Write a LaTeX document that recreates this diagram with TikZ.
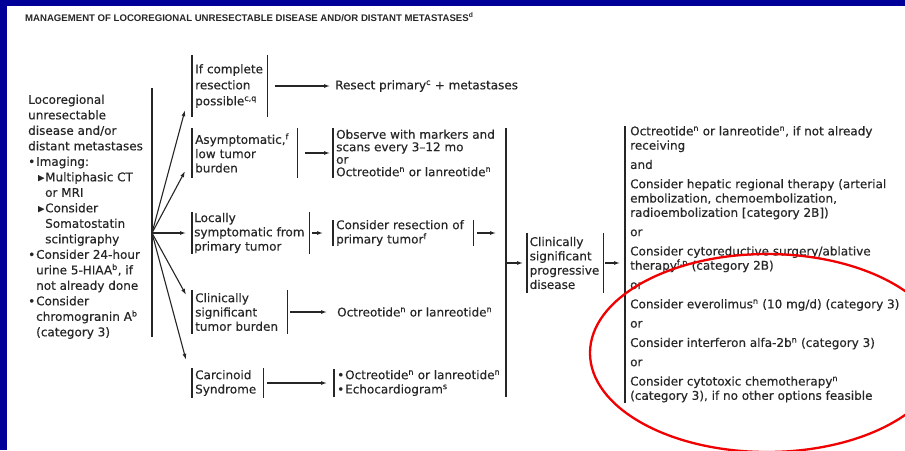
\documentclass[tikz,border=0pt]{standalone}
\usepackage{fontspec}
\setmainfont{DejaVu Sans}[FakeBold=0.35]
\newfontfamily\titrefont{Liberation Sans}
\usetikzlibrary{arrows.meta,positioning,calc}
\definecolor{bleucadre}{RGB}{0,0,153}
\definecolor{gristexte}{RGB}{38,38,38}
\definecolor{rougecercle}{RGB}{240,0,0}
\newcommand{\puce}[1]{\makebox[8pt][l]{#1}}
\newcommand{\souspuce}[1]{\hspace{10pt}\makebox[7pt][l]{#1}}

\begin{document}
\begin{tikzpicture}[x=1pt,y=-1pt,font=\fontsize{12}{14.3}\selectfont,text=gristexte,
	boite/.style={anchor=west,align=left,inner xsep=3pt,inner ysep=0pt},
	trait/.style={gristexte,line width=1.3pt},
	fleche/.style={-{Latex[length=6pt,width=4pt]},gristexte,line width=1.1pt}]
	
	\useasboundingbox (0,0) rectangle (905,450);
	\fill[white] (0,0) rectangle (905,450);
	\fill[bleucadre] (0,0) rectangle (7,450);
	\fill[bleucadre] (0,0) rectangle (905,6);
	
	\node[anchor=west,inner sep=0pt,font={\titrefont\bfseries\fontsize{9.6}{10}\selectfont}] (titre) at (25,17)
	{MANAGEMENT OF LOCOREGIONAL UNRESECTABLE DISEASE AND/OR DISTANT METASTASES\textsuperscript{d}};
	
	% colonne de gauche
	\node[anchor=north west,inner sep=0pt,align=left,font=\fontsize{12}{15.5}\selectfont] (depart) at (28,94.5)
	{Locoregional\\unresectable\\disease and/or\\distant metastases\\
		\puce{•}Imaging:\\
		\souspuce{▸}Multiphasic CT\\
		\hspace{17pt}or MRI\\
		\souspuce{▸}Consider\\
		\hspace{17pt}Somatostatin\\
		\hspace{17pt}scintigraphy\\
		\puce{•}Consider 24-hour\\
		\hspace{8pt}urine 5-HIAA\textsuperscript{b}, if\\
		\hspace{8pt}not already done\\
		\puce{•}Consider\\
		\hspace{8pt}chromogranin A\textsuperscript{b}\\
		\hspace{8pt}(category 3)};
	
	\coordinate (gauchehaut) at (152,88);
	\coordinate (gauchebas) at (152,337);
	\coordinate (fan) at (152,233);
	\draw[trait] (gauchehaut) -- (gauchebas);
	
	% situations
	\node[boite,text width=69pt,minimum height=62pt,font=\fontsize{12}{16}\selectfont] (b1) at (192,86)
	{If complete\\resection\\possible\textsuperscript{c,q}};
	\node[boite,text width=99pt,minimum height=50pt] (b2) at (192,153)
	{Asymptomatic,\textsuperscript{f}\\low tumor\\burden};
	\node[boite,text width=113pt,inner xsep=2pt,minimum height=42pt] (b3) at (192,233)
	{Locally\\symptomatic~from\\primary tumor};
	\node[boite,text width=89pt,minimum height=44pt] (b4) at (192,312)
	{Clinically\\significant\\tumor burden};
	\node[boite,text width=65pt,minimum height=30pt] (b5) at (192,383)
	{Carcinoid\\Syndrome};
	
	\foreach \cible/\ancre/\dx/\dy in {b1/south west/-7/-7,b2/south west/-7/-7,b3/west/-6/0,
		b4/north west/-6/5,b5/north west/-6/-8}
	\draw[fleche] (fan) -- ([shift={(\dx,\dy)}]\cible.\ancre);
	
	% traitements
	\node[anchor=west,inner sep=0pt] (r1) at (335,86) {Resect primary\textsuperscript{c} + metastases};
	\node[boite,minimum height=50pt,font=\fontsize{12}{12.5}\selectfont] (c2) at (333,153)
	{Observe with markers and\\scans every 3–12 mo\\or\\Octreotide\textsuperscript{n} or lanreotide\textsuperscript{n}};
	\node[boite,text width=134pt,minimum height=26pt] (c3) at (333,233)
	{Consider resection of\\primary tumor\textsuperscript{f}};
	\node[anchor=west,inner sep=0pt] (r4) at (337,312) {Octreotide\textsuperscript{n} or lanreotide\textsuperscript{n}};
	\node[boite,minimum height=28pt] (c5) at (334,383)
	{\makebox[8pt][l]{•}Octreotide\textsuperscript{n} or lanreotide\textsuperscript{n}\\
		\makebox[8pt][l]{•}Echocardiogram\textsuperscript{s}};
	
	\coordinate (colhaut) at (506,128);
	\coordinate (colbas) at (506,397);
	\coordinate (colmilieu) at (506,263);
	\draw[trait] (colhaut) -- (colbas);
	
	\node[boite,text width=71pt,inner xsep=2.5pt,minimum height=60pt] (d) at (527,263)
	{Clinically\\significant\\progressive\\disease};
	
	\node[anchor=north west,align=left,inner xsep=5pt,inner ysep=0pt] (e) at (625,126)
	{Octreotide\textsuperscript{n} or lanreotide\textsuperscript{n}, if not already\\receiving\\[5pt]
		and\\[5pt]
		Consider hepatic regional therapy (arterial\\embolization, chemoembolization,\\radioembolization [category 2B])\\[5pt]
		or\\[5pt]
		Consider cytoreductive surgery/ablative\\therapy\textsuperscript{f,p} (category 2B)\\[5pt]
		or\\[5pt]
		Consider everolimus\textsuperscript{n} (10 mg/d) (category 3)\\[5pt]
		or\\[5pt]
		Consider interferon alfa-2b\textsuperscript{n} (category 3)\\[5pt]
		or\\[5pt]
		Consider cytotoxic chemotherapy\textsuperscript{n}\\(category 3), if no other options feasible};
	
	% barres des boites
	\foreach \n in {b1,b2,b3,b4,b5,c3,d}
	\draw[trait] (\n.north west) -- (\n.south west) (\n.north east) -- (\n.south east);
	\foreach \n in {c2,c5,e}
	\draw[trait] (\n.north west) -- (\n.south west);
	
	\draw[fleche,shorten <=8pt,shorten >=5pt] (b1.east) -- (r1.west);
	\draw[fleche,shorten <=8pt,shorten >=3pt] (b2.east) -- (c2.west);
	\draw[fleche,shorten <=3pt,shorten >=10pt] (b3.east) -- (c3.west);
	\draw[fleche,shorten <=4pt,shorten >=10pt] (c3.east) -- (c3.east -| colhaut);
	\draw[fleche,shorten <=3pt,shorten >=10pt] (b4.east) -- (r4.west);
	\draw[fleche,shorten <=4pt,shorten >=7pt] (b5.east) -- (c5.west);
	\draw[fleche,shorten >=4pt] (colmilieu) -- (d.west);
	\draw[fleche,shorten <=2pt,shorten >=5pt] (d.east) -- (d.east -| e.west);
	
	\begin{scope}
		\clip (0,0) rectangle (905,450);
		\draw[rougecercle,line width=2.3pt] (767,353) ellipse [x radius=177pt,y radius=99pt];
	\end{scope}
	
\end{tikzpicture}
\end{document}
